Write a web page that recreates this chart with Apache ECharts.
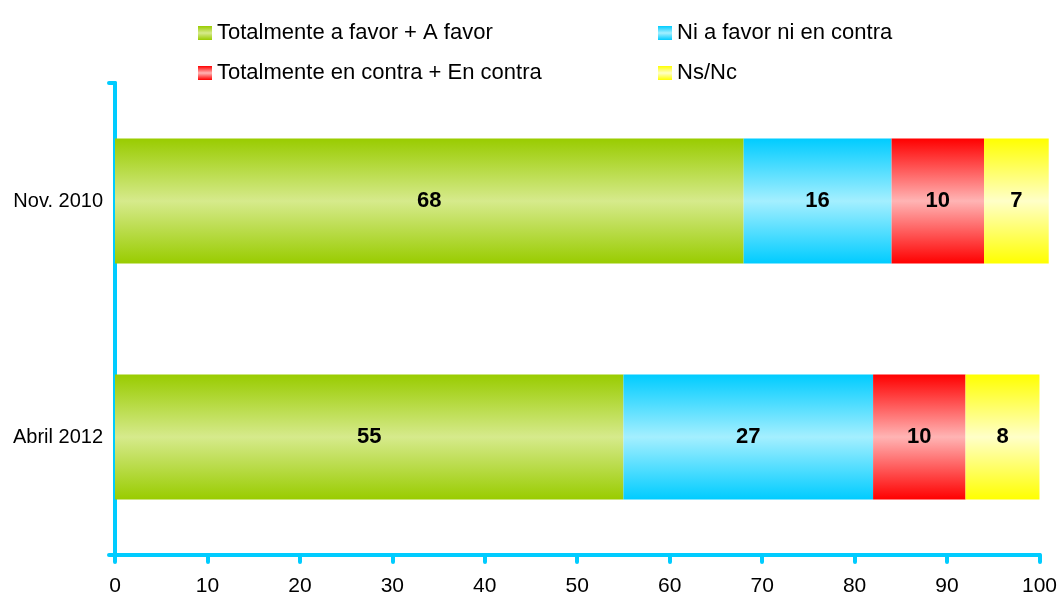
<!DOCTYPE html>
<html>
<head>
<meta charset="utf-8">
<script src="https://cdn.jsdelivr.net/npm/echarts@6/dist/echarts.min.js"></script>
<style>
  html, body { margin: 0; padding: 0; background: #fff; }
  #main { width: 1060px; height: 599px; }
</style>
</head>
<body>
<div id="main"></div>
<script>
// categories (bottom to top as drawn by the category axis)
const categories = ["Abril 2012", "Nov. 2010"];
const seriesNames = [
  "Totalmente a favor + A favor",
  "Ni a favor ni en contra",
  "Totalmente en contra + En contra",
  "Ns/Nc",
];
const favor = [55, 68];
const neutral = [27, 16];
const contra = [10, 10];
const nsnc = [8, 7];
const xTicks = [0, 100, 10];

// edge colour / middle colour for the bar gradients
const edgeColors = ["#99cc00", "#00ccff", "#ff0000", "#ffff00"];
const midColors = ["#d6ea8c", "#a4efff", "#ffb4b4", "#ffffc8"];

function grad(i) {
  return new echarts.graphic.LinearGradient(0, 0, 0, 1, [
    { offset: 0, color: edgeColors[i] },
    { offset: 0.5, color: midColors[i] },
    { offset: 1, color: edgeColors[i] },
  ]);
}

const values = [favor, neutral, contra, nsnc];
const chart = echarts.init(document.getElementById("main"));

const legendText = {
  fontSize: 22,
  color: "#000",
  lineHeight: 22,
};

const option = {
  animation: false,
  textStyle: { fontFamily: "Liberation Sans, Arial, sans-serif" },
  legend: [
    {
      data: [seriesNames[0], seriesNames[2]],
      orient: "vertical",
      icon: "rect",
      left: 193,
      top: 17,
      itemWidth: 14,
      itemHeight: 14,
      itemGap: 18,
      textStyle: legendText,
    },
    {
      data: [seriesNames[1], seriesNames[3]],
      orient: "vertical",
      icon: "rect",
      left: 653,
      top: 17,
      itemWidth: 14,
      itemHeight: 14,
      itemGap: 18,
      textStyle: legendText,
    },
  ],
  grid: {
    left: 115,
    right: 20,
    top: 83,
    bottom: 44,
    containLabel: false,
  },
  xAxis: {
    type: "value",
    min: xTicks[0],
    max: xTicks[1],
    interval: xTicks[2],
    splitLine: { show: false },
    axisLine: {
      show: true,
      lineStyle: { color: "#00ccff", width: 4, cap: "round" },
    },
    axisTick: {
      show: true,
      length: 7,
      lineStyle: { color: "#00ccff", width: 4, cap: "round" },
    },
    axisLabel: { fontSize: 21, color: "#000", margin: 21 },
  },
  yAxis: {
    type: "category",
    data: categories,
    axisLine: {
      show: true,
      lineStyle: { color: "#00ccff", width: 4, cap: "round" },
    },
    axisTick: {
      show: true,
      length: 6,
      interval: function (index) {
        return index !== 1;
      },
      lineStyle: { color: "#00ccff", width: 4, cap: "round" },
    },
    axisLabel: { fontSize: 20, color: "#000", margin: 12 },
  },
  series: seriesNames.map(function (name, i) {
    return {
      name: name,
      type: "bar",
      stack: "total",
      barWidth: "53%",
      clip: false,
      itemStyle: { color: grad(i) },
      label: {
        show: true,
        position: "inside",
        color: "#000",
        fontWeight: "bold",
        fontSize: 22,
      },
      data: values[i],
    };
  }),
};

chart.setOption(option);
</script>
</body>
</html>
